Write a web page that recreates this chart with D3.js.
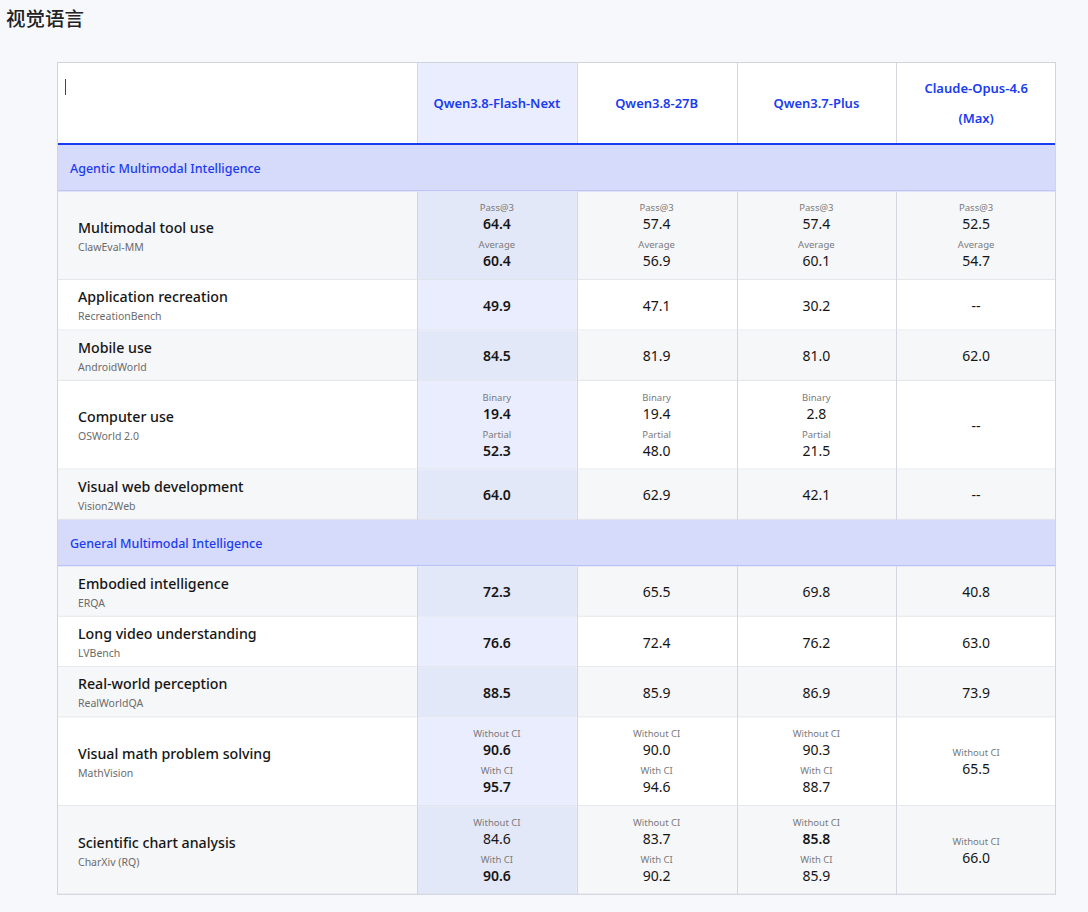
<!DOCTYPE html>
<html>
<head>
<meta charset="utf-8">
<script src="https://cdn.jsdelivr.net/npm/d3@7/dist/d3.min.js"></script>
<style>
  html, body { margin: 0; padding: 0; background: #f7f8fc; }
  svg { display: block; }
  text { font-family: "Noto Sans", "Open Sans", sans-serif; }
</style>
</head>
<body>
<svg id="chart" width="1088" height="912"></svg>
<script>
// ---------- DATA ----------
const title = "视觉语言";
const models = ["Qwen3.8-Flash-Next", "Qwen3.8-27B", "Qwen3.7-Plus", "Claude-Opus-4.6 (Max)"];
const sectionNames = ["Agentic Multimodal Intelligence", "General Multimodal Intelligence"];
const taskNames = ["Multimodal tool use", "Application recreation", "Mobile use", "Computer use", "Visual web development",
                   "Embodied intelligence", "Long video understanding", "Real-world perception", "Visual math problem solving", "Scientific chart analysis"];
const benchmarks = ["ClawEval-MM", "RecreationBench", "AndroidWorld", "OSWorld 2.0", "Vision2Web",
                    "ERQA", "LVBench", "RealWorldQA", "MathVision", "CharXiv (RQ)"];
const taskSection = [0, 0, 0, 0, 0, 1, 1, 1, 1, 1];
const metricLabels = [["Pass@3", "Average"], [], [], ["Binary", "Partial"], [], [], [], [], ["Without CI", "With CI"], ["Without CI", "With CI"]];
const flashNext = [[64.4, 60.4], [49.9], [84.5], [19.4, 52.3], [64.0], [72.3], [76.6], [88.5], [90.6, 95.7], [84.6, 90.6]];
const qwen27B   = [[57.4, 56.9], [47.1], [81.9], [19.4, 48.0], [62.9], [65.5], [72.4], [85.9], [90.0, 94.6], [83.7, 90.2]];
const qwen37Plus= [[57.4, 60.1], [30.2], [81.0], [2.8, 21.5], [42.1], [69.8], [76.2], [86.9], [90.3, 88.7], [85.8, 85.9]];
const claude    = [[52.5, 54.7], null, [62.0], null, null, [40.8], [63.0], [73.9], [65.5, null], [66.0, null]];
const modelValues = [flashNext, qwen27B, qwen37Plus, claude];

// ---------- LAYOUT ----------
const svg = d3.select("#chart");
const fmt = d3.format(".1f");
const tableL = 57, tableR = 1056, labelR = 417;
const headerTop = 62, headerBottom = 143, lineH = 2;
const secH = 46.5, singleH = 50.4, doubleH = 88.6;

const x = d3.scaleBand().domain(models).range([labelR, tableR]);

const C = {
  blue: "#1a3cf0", secBg: "#d6dafb", secBorder: "#a5b0f6",
  gray: "#f6f7f9", white: "#ffffff", hlWhite: "#eaedfd", hlGray: "#e3e8f8",
  vline: "#d3d6de", hline: "#e2e4ea", text: "#151515", sub: "#6b6b6b", metric: "#7a7a7a"
};

// Build row list (sections + tasks)
const rows = [];
let y = headerBottom + lineH;
let lastSec = -1, altIdx = 0;
taskNames.forEach((t, i) => {
  if (taskSection[i] !== lastSec) {
    lastSec = taskSection[i];
    rows.push({type: "section", name: sectionNames[lastSec], y0: y, h: secH});
    y += secH; altIdx = 0;
  }
  const h = metricLabels[i].length > 1 ? doubleH : singleH;
  rows.push({type: "task", i, y0: y, h, gray: altIdx % 2 === 0});
  y += h; altIdx++;
});
const tableBottom = y;

// Title
svg.append("text").attr("x", 6).attr("y", 17).attr("dominant-baseline", "central")
  .attr("font-size", 19.5).attr("font-weight", 500).attr("fill", "#222")
  .style("font-family", '"Noto Sans CJK SC", sans-serif').text(title);

// Table background
svg.append("rect").attr("x", tableL).attr("y", headerTop).attr("width", tableR - tableL)
  .attr("height", tableBottom - headerTop).attr("fill", "#fff");

// Header
svg.append("rect").attr("x", x(models[0])).attr("y", headerTop).attr("width", x.bandwidth())
  .attr("height", headerBottom - headerTop).attr("fill", C.hlWhite);
const hc = (headerTop + headerBottom) / 2;
models.forEach(m => {
  const cx = x(m) + x.bandwidth() / 2;
  const parts = m.match(/^(.*) (\(.*\))$/);
  const lines = parts ? [parts[1], parts[2]] : [m];
  lines.forEach((ln, k) => {
    svg.append("text").attr("x", cx).attr("y", hc + (k - (lines.length - 1) / 2) * 30)
      .attr("text-anchor", "middle").attr("dominant-baseline", "central")
      .attr("font-size", 13).attr("font-weight", 600).attr("fill", C.blue).text(ln);
  });
});
// caret in first header cell
svg.append("line").attr("x1", 65.5).attr("x2", 65.5).attr("y1", 79).attr("y2", 95)
  .attr("stroke", C.blue).attr("stroke-width", 1);

// Body rows
rows.forEach(r => {
  if (r.type === "section") {
    svg.append("rect").attr("x", tableL).attr("y", r.y0).attr("width", tableR - tableL).attr("height", r.h).attr("fill", C.secBg);
    svg.append("line").attr("x1", tableL).attr("x2", tableR).attr("y1", r.y0 + r.h - 0.5).attr("y2", r.y0 + r.h - 0.5)
      .attr("stroke", C.secBorder).attr("stroke-width", 1);
    svg.append("text").attr("x", 70).attr("y", r.y0 + r.h / 2).attr("dominant-baseline", "central")
      .attr("font-size", 12.5).attr("font-weight", 500).attr("fill", C.blue).text(r.name);
    return;
  }
  const i = r.i, cy = r.y0 + r.h / 2;
  svg.append("rect").attr("x", tableL).attr("y", r.y0).attr("width", tableR - tableL).attr("height", r.h)
    .attr("fill", r.gray ? C.gray : C.white);
  svg.append("rect").attr("x", x(models[0])).attr("y", r.y0).attr("width", x.bandwidth()).attr("height", r.h)
    .attr("fill", r.gray ? C.hlGray : C.hlWhite);
  // bottom border
  svg.append("line").attr("x1", tableL).attr("x2", tableR).attr("y1", r.y0 + r.h - 0.5).attr("y2", r.y0 + r.h - 0.5)
    .attr("stroke", C.hline);
  // labels
  svg.append("text").attr("x", 78).attr("y", cy - 8.5).attr("dominant-baseline", "central")
    .attr("font-size", 14.2).attr("font-weight", 500).attr("fill", C.text).text(taskNames[i]);
  svg.append("text").attr("x", 78).attr("y", cy + 11).attr("dominant-baseline", "central")
    .attr("font-size", 10.5).attr("fill", C.sub).text(benchmarks[i]);

  // bold = first best per metric
  const nMetric = Math.max(1, metricLabels[i].length);
  const bestIdx = d3.range(nMetric).map(k => {
    let best = -Infinity, bi = -1;
    modelValues.forEach((mv, mi) => { const v = mv[i] && mv[i][k]; if (v != null && v > best) { best = v; bi = mi; } });
    return bi;
  });

  modelValues.forEach((mv, mi) => {
    const cx = x(models[mi]) + x.bandwidth() / 2;
    const vals = mv[i];
    if (vals == null) {
      svg.append("text").attr("x", cx).attr("y", cy).attr("text-anchor", "middle").attr("dominant-baseline", "central")
        .attr("font-size", 14).attr("fill", C.text).text("--");
      return;
    }
    if (metricLabels[i].length === 0) {
      svg.append("text").attr("x", cx).attr("y", cy).attr("text-anchor", "middle").attr("dominant-baseline", "central")
        .attr("font-size", 14).attr("font-weight", bestIdx[0] === mi ? 600 : 400).attr("fill", C.text).text(fmt(vals[0]));
      return;
    }
    const present = vals.map((v, k) => ({v, k})).filter(d => d.v != null);
    const block = 37;
    const startY = cy - (present.length - 1) * block / 2;
    present.forEach((d, j) => {
      const by = startY + j * block;
      svg.append("text").attr("x", cx).attr("y", by - 9.5).attr("text-anchor", "middle").attr("dominant-baseline", "central")
        .attr("font-size", 9.5).attr("fill", C.metric).text(metricLabels[i][d.k]);
      svg.append("text").attr("x", cx).attr("y", by + 6.5).attr("text-anchor", "middle").attr("dominant-baseline", "central")
        .attr("font-size", 14).attr("font-weight", bestIdx[d.k] === mi ? 600 : 400).attr("fill", C.text).text(fmt(d.v));
    });
  });
});

// Vertical lines (header + task rows, not section rows)
const vxs = [labelR].concat(models.slice(1).map(m => x(m)));
const vSegs = [{y0: headerTop, y1: headerBottom}].concat(rows.filter(r => r.type === "task").map(r => ({y0: r.y0, y1: r.y0 + r.h})));
vxs.forEach(vx => {
  vSegs.forEach(s => {
    svg.append("line").attr("x1", Math.round(vx) + 0.5).attr("x2", Math.round(vx) + 0.5).attr("y1", s.y0).attr("y2", s.y1)
      .attr("stroke", C.vline);
  });
});

// Blue header line
svg.append("rect").attr("x", tableL).attr("y", headerBottom).attr("width", tableR - tableL).attr("height", lineH).attr("fill", C.blue);

// Outer border
svg.append("rect").attr("x", tableL + 0.5).attr("y", headerTop + 0.5).attr("width", tableR - tableL - 1)
  .attr("height", tableBottom - headerTop - 1).attr("fill", "none").attr("stroke", "#d0d4dc");
</script>
</body>
</html>
